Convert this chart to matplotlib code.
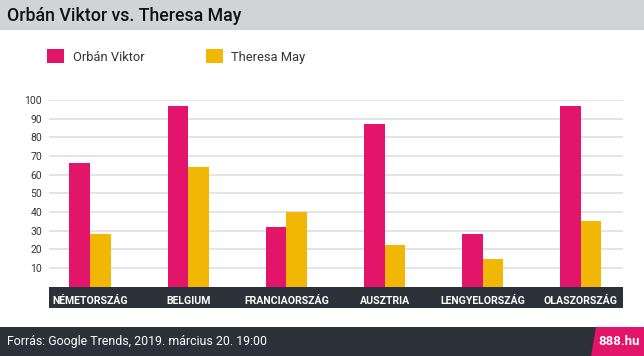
import matplotlib
matplotlib.use("Agg")
import matplotlib.pyplot as plt
import numpy as np
from matplotlib.patches import Rectangle, Polygon

# adatok
orszagok = ["NÉMETORSZÁG", "BELGIUM", "FRANCIAORSZÁG", "AUSZTRIA", "LENGYELORSZÁG", "OLASZORSZÁG"]
orban = [66, 97, 32, 87, 28, 97]
may = [28, 64, 40, 22, 15, 35]
y_ticks = [10, 20, 30, 40, 50, 60, 70, 80, 90, 100]

PINK = "#e2156b"
YELLOW = "#f2b705"
DARK = "#2c3038"
GRAY = "#d2d3d5"

plt.rcParams['font.family'] = ['Roboto', 'DejaVu Sans']

W, H = 644, 356
fig = plt.figure(figsize=(W / 100, H / 100), dpi=100)


def fx(px):
    return px / W


def fy(py):
    return 1 - py / H


# fejléc
fig.patches.append(Rectangle((0, fy(29.5)), 1, 29.5 / H, transform=fig.transFigure,
                             facecolor=GRAY, edgecolor="none", zorder=0))
fig.text(fx(7), fy(16), "Orbán Viktor vs. Theresa May", fontsize=12.8, fontweight="medium",
         color="#111111", va="center", ha="left")

# diagram
ax = fig.add_axes([fx(49), fy(286.5), fx(623) - fx(49), (286.5 - 100) / H])
x = np.arange(len(orszagok))
w = 0.209
b1 = ax.bar(x - w / 2, orban, w, color=PINK, label="Orbán Viktor", zorder=3)
b2 = ax.bar(x + w / 2, may, w, color=YELLOW, label="Theresa May", zorder=3)

ax.set_xlim(-0.4175, 5.428)
ax.set_ylim(0, 100)
ax.set_yticks(y_ticks)
ax.set_yticklabels([str(v) for v in y_ticks], fontsize=7.5, color="#333333")
ax.yaxis.grid(True, color="#dcdcdc", linewidth=1.1)
ax.set_axisbelow(True)
for s in ax.spines.values():
    s.set_visible(False)
ax.tick_params(axis="y", length=0, pad=5)
ax.set_xticks(x)
ax.set_xticklabels(orszagok, fontsize=7.6, fontweight="bold", color="white")
ax.tick_params(axis="x", length=0, pad=6.5)

# sötét sáv az országnevek alatt
band_h = 21.5 / 186.5
ax.add_patch(Rectangle((0, -band_h), 1, band_h, transform=ax.transAxes,
                       facecolor=DARK, edgecolor="none", clip_on=False, zorder=0.1))

# jelmagyarázat
fig.legend(handles=[b1, b2], loc="upper left", bbox_to_anchor=(fx(46.7), fy(49)),
           ncol=2, frameon=False, prop={'size': 9.3},
           handlelength=1.35, handleheight=1.35, handletextpad=0.65, columnspacing=4.75,
           borderpad=0, borderaxespad=0, labelcolor="#333333")

# lábléc
fig.patches.append(Rectangle((0, 0), 1, 29 / H, transform=fig.transFigure,
                             facecolor=DARK, edgecolor="none", zorder=0))
fig.patches.append(Polygon([(fx(591), 0), (fx(596), fy(327)), (1, fy(327)), (1, 0)],
                           closed=True, transform=fig.transFigure,
                           facecolor=PINK, edgecolor="none", zorder=1))
fig.text(fx(7), fy(341.5), "Forrás: Google Trends, 2019. március 20. 19:00", fontsize=8.9,
         color="white", va="center", ha="left")
fig.text(fx(640), fy(341.5), "888.hu", fontsize=9.5, fontweight="bold",
         color="white", va="center", ha="right")

fig.savefig("out.png", dpi=100)
